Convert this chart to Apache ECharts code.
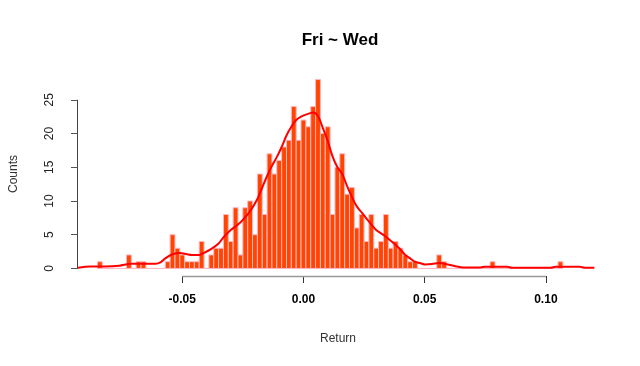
<!DOCTYPE html>
<html>
<head>
<meta charset="utf-8">
<script src="https://cdn.jsdelivr.net/npm/echarts@6/dist/echarts.min.js"></script>
<style>html,body{margin:0;padding:0;background:#fff;}#c{width:640px;height:366px;}</style>
</head>
<body>
<div id="c"></div>
<script>
// Histogram bins (Return), width 0.002, first bin starts at -0.085
const binStart = -0.085;
const binWidth = 0.002;
const counts = [
  1, 0, 0, 0, 0, 0, 2, 0, 1, 1,          // -0.084 .. -0.066
  0, 0, 0, 0, 1, 5, 3, 2, 1, 1,          // -0.064 .. -0.046
  1, 4, 0, 2, 3, 3, 8, 4, 9, 2,          // -0.044 .. -0.026
  9, 10, 5, 14, 8, 17, 14, 16, 18, 19,   // -0.024 .. -0.006
  24, 19, 22, 21, 24, 28, 20, 21, 8, 15, // -0.004 .. 0.014
  17, 11, 12, 6, 8, 4, 8, 3, 4, 8,       // 0.016 .. 0.034
  3, 4, 3, 2, 1, 1, 0, 0, 0, 0,          // 0.036 .. 0.054
  2, 1, 0, 0, 0, 0, 0, 0, 0, 0,          // 0.056 .. 0.074
  0, 1, 0, 0, 0, 0, 0, 0, 0, 0,          // 0.076 .. 0.094
  0, 0, 0, 0, 0, 1                       // 0.096 .. 0.106
];
// Density curve scaled to counts
const densX = [-0.093,-0.088,-0.082,-0.076,-0.071,-0.065,-0.061,-0.059,-0.057,-0.054,-0.051,-0.048,-0.046,-0.043,-0.041,-0.038,-0.035,-0.033,-0.030,-0.027,-0.025,-0.022,-0.019,-0.017,-0.015,-0.013,-0.011,-0.009,-0.007,-0.005,-0.003,-0.001,0.001,0.004,0.006,0.008,0.010,0.012,0.014,0.016,0.018,0.020,0.022,0.024,0.026,0.028,0.030,0.032,0.034,0.036,0.038,0.040,0.042,0.044,0.046,0.048,0.050,0.053,0.056,0.060,0.063,0.066,0.073,0.075,0.084,0.086,0.102,0.104,0.114,0.116,0.120];
const densY = [0.1,0.3,0.3,0.4,0.7,0.7,0.7,0.9,1.5,2.1,2.3,2.1,2.0,2.0,2.3,2.9,3.7,4.6,5.7,6.5,7.2,8.5,10.3,12.0,13.7,15.2,16.5,18.0,19.7,21.0,22.0,22.5,22.8,23.1,22.6,20.8,18.9,16.6,15.0,14.0,12.2,10.6,9.2,8.3,7.4,6.5,5.7,5.2,4.7,4.1,3.5,2.8,2.0,1.5,1.0,0.8,0.6,0.65,0.8,0.55,0.3,0.15,0.15,0.25,0.25,0.1,0.1,0.25,0.25,0.1,0.1];
const xTicks = [-0.05, 0.00, 0.05, 0.10];
const yTicks = [0, 5, 10, 15, 20, 25];

const bins = counts.map((c, i) => [binStart + i * binWidth, binStart + (i + 1) * binWidth, c]);
const dens = densX.map((x, i) => [x, densY[i]]);

const xMin = -0.093, xMax = 0.1215, yMin = -1.12, yMax = 29.12;
const font = "'Liberation Sans', Arial, sans-serif";

const chart = echarts.init(document.getElementById('c'), null, {renderer: 'canvas'});
chart.setOption({
  animation: false,
  backgroundColor: '#fff',
  title: {
    text: 'Fri ~ Wed', left: 335, top: 27, textAlign: 'center',
    textStyle: {fontFamily: font, fontSize: 17, fontWeight: 'bold', color: '#000'}
  },
  grid: {left: 72, right: 42, top: 72, bottom: 90, containLabel: false},
  xAxis: {
    type: 'value', min: xMin, max: xMax,
    name: 'Return', nameLocation: 'middle', nameGap: 57,
    nameTextStyle: {fontFamily: font, fontSize: 12, color: '#333'},
    axisLine: {show: false, onZero: false},
    axisTick: {show: true, customValues: xTicks, length: 7, lineStyle: {color: '#333'}},
    axisLabel: {customValues: xTicks, formatter: v => v.toFixed(2), margin: 18,
      fontFamily: font, fontSize: 12, fontWeight: 'bold', color: '#000'},
    splitLine: {show: false}
  },
  yAxis: {
    type: 'value', min: yMin, max: yMax,
    name: 'Counts', nameLocation: 'middle', nameGap: 58, nameRotate: 90,
    nameTextStyle: {fontFamily: font, fontSize: 12, color: '#333'},
    axisLine: {show: false, onZero: false},
    axisTick: {show: true, customValues: yTicks, length: 7, lineStyle: {color: '#555'}},
    axisLabel: {customValues: yTicks, rotate: 90, margin: 22,
      fontFamily: font, fontSize: 12, color: '#222'},
    splitLine: {show: false}
  },
  series: [
    {
      type: 'custom',
      data: bins,
      renderItem: (params, api) => {
        const p0 = api.coord([api.value(0), api.value(2)]);
        const p1 = api.coord([api.value(1), 0]);
        return {
          type: 'rect',
          shape: {x: p0[0], y: p0[1], width: p1[0] - p0[0], height: p1[1] - p0[1]},
          style: {fill: '#FF4500', stroke: '#FFB6C1', lineWidth: 1}
        };
      },
      z: 2,
      silent: true
    },
    {
      type: 'line',
      data: dens,
      showSymbol: false,
      smooth: 0.3,
      clip: false,
      lineStyle: {color: '#FF0000', width: 2},
      z: 5,
      silent: true
    }
  ]
});

// Axis lines spanning only the tick range (as in base R), placed through the axes' scales
const yA = chart.convertToPixel({xAxisIndex: 0, yAxisIndex: 0}, [xMin, yTicks[0]]);
const yB = chart.convertToPixel({xAxisIndex: 0, yAxisIndex: 0}, [xMin, yTicks[yTicks.length - 1]]);
const xA = chart.convertToPixel({xAxisIndex: 0, yAxisIndex: 0}, [xTicks[0], yMin]);
const xB = chart.convertToPixel({xAxisIndex: 0, yAxisIndex: 0}, [xTicks[xTicks.length - 1], yMin]);
chart.setOption({
  graphic: [
    {type: 'line', silent: true, z: 10,
     shape: {x1: Math.round(yA[0]) - 0.5, y1: yA[1], x2: Math.round(yB[0]) - 0.5, y2: yB[1]},
     style: {stroke: '#444', lineWidth: 1}},
    {type: 'line', silent: true, z: 10,
     shape: {x1: xA[0], y1: Math.round(xA[1]) + 0.5, x2: xB[0], y2: Math.round(xB[1]) + 0.5},
     style: {stroke: '#999', lineWidth: 1.5}}
  ]
});
</script>
</body>
</html>
